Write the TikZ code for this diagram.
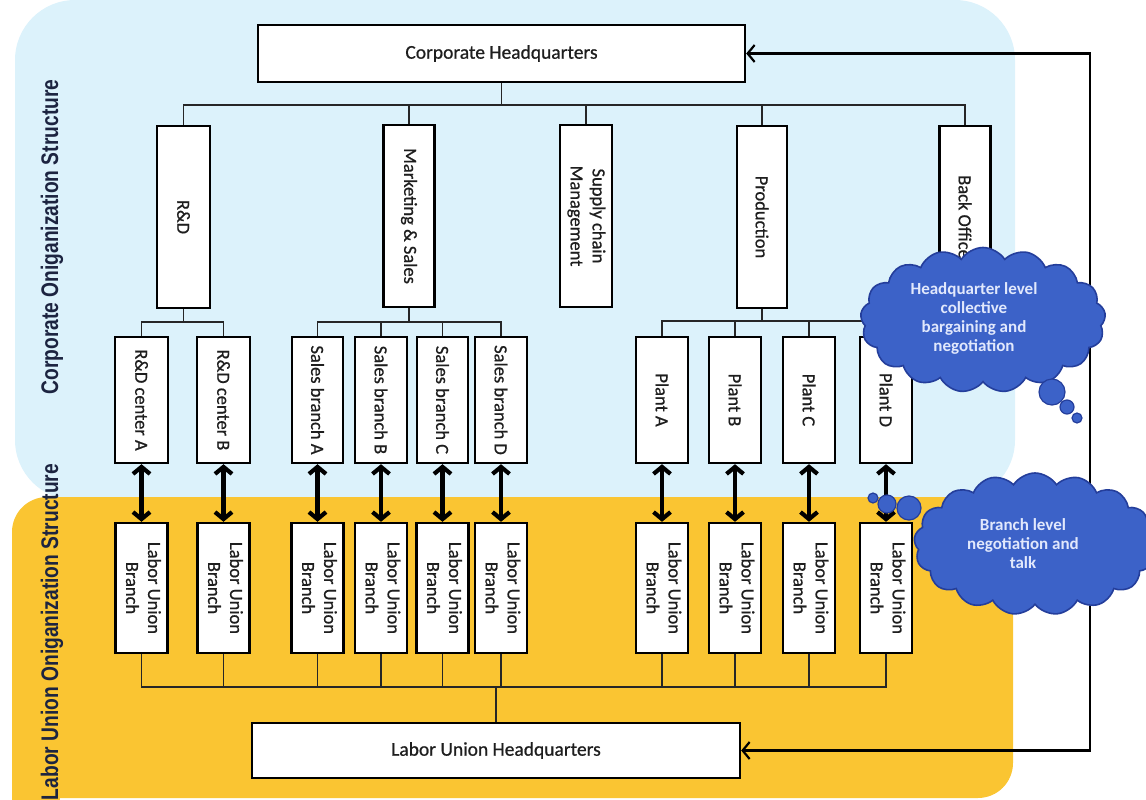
\documentclass[tikz,border=0pt]{standalone}
\usepackage{fontspec}
\setmainfont{Carlito}
\newfontfamily\boxfont{Carlito}[FakeBold=0.7]
\newfontfamily\titlefont{Liberation Sans}
\usetikzlibrary{arrows.meta,shapes.symbols}

\definecolor{skyback}{RGB}{220,242,251}
\definecolor{goldback}{RGB}{250,197,50}
\definecolor{cloudblue}{RGB}{60,98,200}
\definecolor{cloudedge}{RGB}{36,62,155}
\definecolor{cloudtext}{RGB}{225,232,252}
\definecolor{titlenavy}{RGB}{28,36,64}
\definecolor{boxtext}{RGB}{30,30,30}

% vertical labels inside the tall boxes
\newcommand\vlabel[1]{\rotatebox{-90}{#1}}
\newcommand\vpair[2]{\rotatebox{-90}{\begin{tabular}{@{}c@{}}#1\\#2\end{tabular}}}

\begin{document}
\begin{tikzpicture}[x=1pt,y=-1pt,
  orgbox/.style={draw=black, line width=2.4pt, fill=white, inner sep=0pt,
    text=boxtext, font=\boxfont\fontsize{18.5}{22}\selectfont},
  widebox/.style={orgbox, font=\boxfont\fontsize{19.5}{22}\selectfont},
  upper/.style={orgbox, minimum height=182pt},
  middle/.style={orgbox, minimum height=126pt},
  lower/.style={orgbox, minimum height=130pt},
  tree/.style={line width=1.3pt, draw=black!85},
  link/.style={line width=4.2pt,
    {Straight Barb[length=7pt,width=17pt]}-{Straight Barb[length=7pt,width=17pt]}},
  feedback/.style={line width=2.2pt,
    {Straight Barb[length=7pt,width=17pt]}-{Straight Barb[length=7pt,width=17pt]}},
  cloudshape/.style={cloud, cloud puffs=17, cloud puff arc=115, cloud ignores aspect,
    draw=cloudedge, line width=1.6pt, fill=cloudblue, inner sep=0pt},
  cloudtxt/.style={text=cloudtext, align=center,
    font=\bfseries\fontsize{17}{19}\selectfont},
  bubble/.style={circle, draw=cloudedge, fill=cloudblue, line width=1.2pt, inner sep=0pt},
  sidetitle/.style={rotate=90, text=titlenavy,
    font=\titlefont\bfseries\fontsize{24}{24}\selectfont}]

\useasboundingbox (0,0) rectangle (1146,800);

% background bands
\fill[skyback, rounded corners=60pt] (15,0) rectangle (1015,500);
\fill[goldback, rounded corners=35pt] (12,497) rectangle (1013,798);
\fill[goldback] (960,497) rectangle (1013,540);
\fill[goldback] (12,750) rectangle (60,800);

% side titles
\node[sidetitle] (corptitle) at (52,237) {\scalebox{0.8}[1]{Corporate Oniganization Structure}};
\node[sidetitle] (uniontitle) at (52,632) {\scalebox{0.8}[1]{Labor Union Oniganization Structure}};

% headquarters
\node[widebox, minimum width=487pt, minimum height=57pt] (hq) at (501.5,53.5) {Corporate Headquarters};
\node[widebox, minimum width=488pt, minimum height=55pt] (luhq) at (496,750.5) {Labor Union Headquarters};

% corporate divisions
\node[upper, minimum width=53pt] (rd)   at (183.5,217) {\vlabel{R\&D}};
\node[upper, minimum width=51pt] (ms)   at (409,216)   {\vlabel{Marketing \& Sales}};
\node[upper, minimum width=52pt] (scm)  at (586,216)   {\vpair{Supply chain}{Management}};
\node[upper, minimum width=50pt] (prod) at (762,217)   {\vlabel{Production}};
\node[upper, minimum width=51pt] (bo)   at (965,217)   {\vlabel{Back Office}};

% branches and plants
\node[middle, minimum width=53pt] (rdA) at (141.5,400) {\vlabel{R\&D center A}};
\node[middle, minimum width=53pt] (rdB) at (223.5,400) {\vlabel{R\&D center B}};
\node[middle, minimum width=51pt] (sA)  at (317.5,400) {\vlabel{Sales branch A}};
\node[middle, minimum width=52pt] (sB)  at (381,400)   {\vlabel{Sales branch B}};
\node[middle, minimum width=51pt] (sC)  at (442.5,400) {\vlabel{Sales branch C}};
\node[middle, minimum width=52pt] (sD)  at (501,400)   {\vlabel{Sales branch D}};
\node[middle, minimum width=52pt] (pA)  at (662,400)   {\vlabel{Plant A}};
\node[middle, minimum width=52pt] (pB)  at (735,400)   {\vlabel{Plant B}};
\node[middle, minimum width=52pt] (pC)  at (809,400)   {\vlabel{Plant C}};
\node[middle, minimum width=52pt] (pD)  at (886,400)   {\vlabel{Plant D}};

% union branches
\foreach \n/\x in {lu1/141.5, lu2/223.5, lu3/317.5, lu4/381, lu5/442.5,
                   lu6/501, lu7/662, lu8/735, lu9/809, lu10/886}
  \node[lower, minimum width=52pt] (\n) at (\x,588) {\vpair{Labor Union}{Branch}};

% corporate tree
\coordinate (hqbus) at (0,105);
\coordinate (rdbus) at (0,322);
\coordinate (sbus)  at (0,322);
\coordinate (pbus)  at (0,321);
\coordinate (lbus)  at (0,687);

\draw[tree] (hq.south) -- (hq.south |- hqbus);
\draw[tree] (rd.north) -- (rd.north |- hqbus) -| (bo.north);
\foreach \n in {ms,scm,prod} \draw[tree] (\n.north) -- (\n.north |- hqbus);

\draw[tree] (rd.south) -- (rd.south |- rdbus);
\draw[tree] (rdA.north) -- (rdA.north |- rdbus) -| (rdB.north);

\draw[tree] (ms.south) -- (ms.south |- sbus);
\draw[tree] (sA.north) -- (sA.north |- sbus) -| (sD.north);
\foreach \n in {sB,sC} \draw[tree] (\n.north) -- (\n.north |- sbus);

\draw[tree] (prod.south) -- (prod.south |- pbus);
\draw[tree] (pA.north) -- (pA.north |- pbus) -| (pD.north);
\foreach \n in {pB,pC} \draw[tree] (\n.north) -- (\n.north |- pbus);

% union tree
\draw[tree] (lu1.south) -- (lu1.south |- lbus) -| (lu10.south);
\foreach \n in {lu2,lu3,lu4,lu5,lu6,lu7,lu8,lu9}
  \draw[tree] (\n.south) -- (\n.south |- lbus);
\draw[tree] (luhq.north) -- (luhq.north |- lbus);

% branch level links
\foreach \a/\b in {rdA/lu1, rdB/lu2, sA/lu3, sB/lu4, sC/lu5,
                   sD/lu6, pA/lu7, pB/lu8, pC/lu9, pD/lu10}
  \draw[link] (\a.south) -- (\b.north);

% headquarter level link
\coordinate (fb) at (1090,0);
\draw[feedback] (hq.east) -- (hq.east -| fb) |- (luhq.east);

% negotiation clouds
\node[cloudshape, minimum width=245pt, minimum height=145pt] (hqcloud) at (983,320) {};
\node[cloudtxt] (hqcloudtext) at (974,318) {Headquarter level\\collective\\bargaining and\\negotiation};
\node[bubble, minimum size=26pt] (hqb1) at (1052,392) {};
\node[bubble, minimum size=14pt] (hqb2) at (1067,407) {};
\node[bubble, minimum size=10pt] (hqb3) at (1077,418) {};

\node[cloudshape, minimum width=242pt, minimum height=142pt] (brcloud) at (1035,544) {};
\node[cloudtxt] (brcloudtext) at (1023,544) {Branch level\\negotiation and\\talk};
\node[bubble, minimum size=24pt] (brb1) at (909,508) {};
\node[bubble, minimum size=18pt] (brb2) at (887,504) {};
\node[bubble, minimum size=10pt] (brb3) at (873,498) {};

\end{tikzpicture}
\end{document}
